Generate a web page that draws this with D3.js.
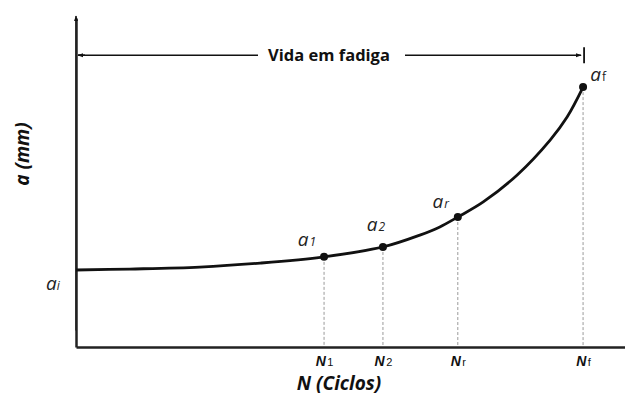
<!DOCTYPE html>
<html><head><meta charset="utf-8">
<script src="https://cdn.jsdelivr.net/npm/d3@7"></script>
<style>
html,body{margin:0;padding:0;background:#fff;}
svg{display:block;font-family:"Open Sans",sans-serif;}
</style></head>
<body><svg id="c" width="625" height="396"></svg>
<script>
// ---- data ----
const curveN = [0, 1.08, 2.48, 3.69, 4.97, 6.15, 6.89, 7.29, 7.65, 8.16, 8.84, 9.50, 9.84, 10.16];
const curveA = [2.34, 2.37, 2.43, 2.55, 2.74, 3.04, 3.40, 3.65, 3.95, 4.41, 5.23, 6.29, 6.99, 7.90];
const pointSub = ["1", "2", "r", "f"];
const pointN = [4.97, 6.15, 7.65, 10.16];
const pointA = [2.74, 3.04, 3.95, 7.90];
const aInitial = 2.34;
const lifeLevel = 8.87;
const lifeLabel = "Vida em fadiga";
const xTitle = "N (Ciclos)";
const yTitle = "a (mm)";

// ---- layout ----
const svg = d3.select("#c");
const x = d3.scaleLinear().domain([0, 11]).range([76, 625]);
const y = d3.scaleLinear().domain([0, 10]).range([347, 18]);
const labelOffsets = {"1":[-17,-11], "2":[-7,-16], "r":[-17,-9], "f":[15,-6]};
const subStyle = {"1":"italic","2":"italic","r":"italic","f":"normal"};

const defs = svg.append("defs");
defs.append("marker").attr("id","arr").attr("viewBox","0 0 10 10").attr("refX",9).attr("refY",5)
  .attr("markerWidth",4).attr("markerHeight",4).attr("orient","auto-start-reverse").attr("markerUnits","strokeWidth")
  .append("path").attr("d","M0,1.5L10,5L0,8.5z").attr("fill","#111");

// dashed guides
svg.append("g").selectAll("line").data(pointN).join("line")
  .attr("x1", d=>x(d)).attr("x2", d=>x(d))
  .attr("y1", (d,i)=>y(pointA[i])).attr("y2", y(0))
  .attr("stroke","#9a9a9a").attr("stroke-width",1).attr("stroke-dasharray","3,2");

// x axis
const xAxis = d3.axisBottom(x).tickValues(pointN).tickSize(0).tickSizeOuter(0).tickPadding(6).tickFormat(()=>"");
const gx = svg.append("g").attr("transform",`translate(0,${y(0)})`).call(xAxis);
gx.select(".domain").attr("stroke","#222").attr("stroke-width",2.5);
gx.selectAll(".tick text").each(function(d,i){
  const t = d3.select(this).text(null).attr("font-size",14).attr("fill","#111").attr("dy","0.9em");
  t.append("tspan").attr("font-style","italic").attr("font-weight","bold").text("N");
  t.append("tspan").attr("font-size",11).attr("dx",1.5).attr("font-style","normal").text(pointSub[i]);
});

// y axis
const yAxis = d3.axisLeft(y).tickValues([]).tickSizeOuter(0);
const gy = svg.append("g").attr("transform",`translate(${x(0)},0)`).call(yAxis);
gy.select(".domain").attr("stroke","#222").attr("stroke-width",2.5);
svg.append("line").attr("x1",x(0)).attr("x2",x(0)).attr("y1",y(0.5)).attr("y2",y(10)-2)
  .attr("stroke","#222").attr("stroke-width",1.5).attr("marker-end","url(#arr)");

// curve
const line = d3.line().x(d=>x(d[0])).y(d=>y(d[1])).curve(d3.curveCatmullRom.alpha(0.5));
svg.append("path").datum(curveN.map((n,i)=>[n,curveA[i]])).attr("d",line)
  .attr("fill","none").attr("stroke","#111").attr("stroke-width",2.8);

// points
svg.append("g").selectAll("circle").data(pointN).join("circle")
  .attr("cx",d=>x(d)).attr("cy",(d,i)=>y(pointA[i])).attr("r",4).attr("fill","#111");

// point labels
svg.append("g").selectAll("text").data(pointSub).join("text")
  .attr("x",(d,i)=>x(pointN[i])+labelOffsets[d][0])
  .attr("y",(d,i)=>y(pointA[i])+labelOffsets[d][1])
  .attr("text-anchor","middle").attr("fill","#222").attr("font-size",19)
  .each(function(d){
    const t=d3.select(this);
    t.append("tspan").attr("font-style","italic").text("a");
    t.append("tspan").attr("font-size",12).attr("dx",1).attr("font-style",subStyle[d]).text(d);
  });

// a_i label
const ai = svg.append("text").attr("x",x(0)-23).attr("y",y(aInitial)+20)
  .attr("text-anchor","middle").attr("fill","#222").attr("font-size",19);
ai.append("tspan").attr("font-style","italic").text("a");
ai.append("tspan").attr("font-size",12).attr("font-style","italic").text("i");

// fatigue life arrow
const ly = y(lifeLevel);
svg.append("line").attr("x1",x(0)+9).attr("x2",x(0)+2).attr("y1",ly).attr("y2",ly)
  .attr("stroke","#111").attr("stroke-width",1.5).attr("marker-end","url(#arr)");
svg.append("line").attr("x1",x(0)+2).attr("x2",258).attr("y1",ly).attr("y2",ly)
  .attr("stroke","#111").attr("stroke-width",1.5);
svg.append("line").attr("x1",405).attr("x2",x(pointN[3])-2).attr("y1",ly).attr("y2",ly)
  .attr("stroke","#111").attr("stroke-width",1.5).attr("marker-end","url(#arr)");
svg.append("line").attr("x1",x(pointN[3])+1).attr("x2",x(pointN[3])+1).attr("y1",ly-8).attr("y2",ly+8)
  .attr("stroke","#111").attr("stroke-width",1.8);
svg.append("text").attr("x",329).attr("y",ly+6).attr("text-anchor","middle")
  .attr("font-size",16.5).attr("font-weight","bold").attr("fill","#111").text(lifeLabel);

// axis titles
svg.append("text").attr("x",339).attr("y",390).attr("text-anchor","middle")
  .attr("font-size",19).attr("font-weight","bold").attr("font-style","italic").attr("fill","#111").text(xTitle);
svg.append("text").attr("transform","translate(29,154) rotate(-90)").attr("text-anchor","middle")
  .attr("font-size",19).attr("font-weight","bold").attr("font-style","italic").attr("fill","#111").text(yTitle);
</script></body></html>
